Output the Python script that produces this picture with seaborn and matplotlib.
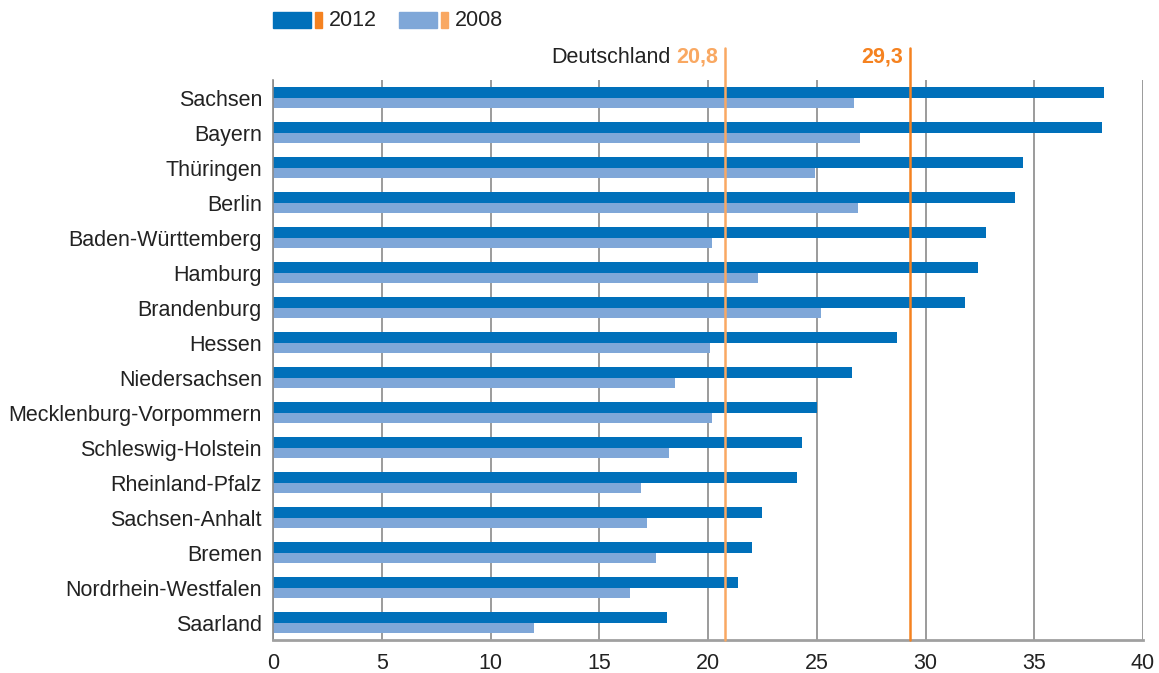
import numpy as np
import pandas as pd
import matplotlib.pyplot as plt
import seaborn as sns
from matplotlib.patches import Rectangle

sns.set_style('white')
plt.rcParams['font.family'] = ['Liberation Sans', 'DejaVu Sans']

# Daten
laender = ['Sachsen', 'Bayern', 'Thüringen', 'Berlin', 'Baden-Württemberg',
           'Hamburg', 'Brandenburg', 'Hessen', 'Niedersachsen',
           'Mecklenburg-Vorpommern', 'Schleswig-Holstein', 'Rheinland-Pfalz',
           'Sachsen-Anhalt', 'Bremen', 'Nordrhein-Westfalen', 'Saarland']
werte_2012 = [38.2, 38.1, 34.5, 34.1, 32.8, 32.4, 31.8, 28.7, 26.6,
              25.0, 24.3, 24.1, 22.5, 22.0, 21.4, 18.1]
werte_2008 = [26.7, 27.0, 24.9, 26.9, 20.2, 22.3, 25.2, 20.1, 18.5,
              20.2, 18.2, 16.9, 17.2, 17.6, 16.4, 12.0]
deutschland_2012 = 29.3
deutschland_2008 = 20.8
jahre = ['2012', '2008']

blau_dunkel = '#0070ba'
blau_hell = '#7fa7d8'
orange_dunkel = '#f58220'
orange_hell = '#f9a862'
fs = 15.5

df = pd.DataFrame({
    'Land': laender * 2,
    'Wert': werte_2012 + werte_2008,
    'Jahr': ['2012'] * len(laender) + ['2008'] * len(laender),
})

fig = plt.figure(figsize=(11.59, 6.73), dpi=100)
ax = fig.add_axes([0.2356, 0.049, 0.7506, 0.832])

sns.barplot(data=df, y='Land', x='Wert', hue='Jahr', hue_order=jahre,
            palette=[blau_dunkel, blau_hell], orient='h', width=0.6,
            saturation=1, linewidth=0, legend=False, ax=ax)

ax.set_xlim(0, 40)
ax.set_ylim(len(laender) - 0.5, -0.5)
ax.set_xticks(range(0, 41, 5))
ax.set_xlabel('')
ax.set_ylabel('')
ax.tick_params(axis='both', length=0, labelsize=fs, colors='#222222')
ax.tick_params(axis='x', pad=9)
ax.tick_params(axis='y', pad=8)

ax.grid(axis='x', color='#8a8a8a', linewidth=1.2)
ax.grid(axis='y', visible=False)
ax.set_axisbelow(True)
for s in ['top', 'right']:
    ax.spines[s].set_visible(False)
ax.spines['left'].set_color('#8a8a8a')
ax.spines['left'].set_linewidth(1.2)
ax.spines['bottom'].set_color('#a0a0a0')
ax.spines['bottom'].set_linewidth(2)

# Deutschland-Linien
ax.axvline(deutschland_2008, ymin=0, ymax=1.057, color=orange_hell, lw=1.8, clip_on=False, zorder=5)
ax.axvline(deutschland_2012, ymin=0, ymax=1.057, color=orange_dunkel, lw=1.8, clip_on=False, zorder=5)

t1 = ax.annotate('20,8', xy=(deutschland_2008, 1.041), xycoords=('data', 'axes fraction'),
                 xytext=(-5, 0), textcoords='offset points', ha='right', va='center',
                 fontsize=fs, fontweight='bold', color=orange_hell, annotation_clip=False)
ax.annotate('Deutschland', xy=(0, 0.5), xycoords=t1, xytext=(-4, 0),
            textcoords='offset points', ha='right', va='center',
            fontsize=fs, color='#222222')
ax.annotate('29,3', xy=(deutschland_2012, 1.041), xycoords=('data', 'axes fraction'),
            xytext=(-5, 0), textcoords='offset points', ha='right', va='center',
            fontsize=fs, fontweight='bold', color=orange_dunkel, annotation_clip=False)

# Legende
W, H = 1159, 673
eintraege = [(273, blau_dunkel, orange_dunkel, '2012'),
             (399, blau_hell, orange_hell, '2008')]
for x0, c1, c2, txt in eintraege:
    fig.add_artist(Rectangle((x0 / W, 1 - 28 / H), 38 / W, 16 / H, color=c1, transform=fig.transFigure))
    fig.add_artist(Rectangle(((x0 + 42) / W, 1 - 28 / H), 7 / W, 16 / H, color=c2, transform=fig.transFigure))
    fig.text((x0 + 56) / W, 1 - 20 / H, txt, fontsize=fs, color='#222222', va='center')

fig.savefig('out.png', dpi=100, facecolor='white')
